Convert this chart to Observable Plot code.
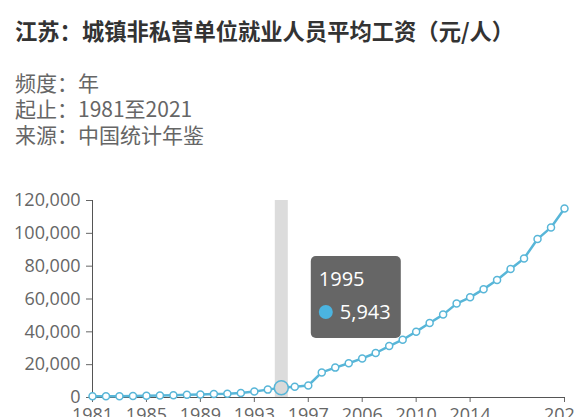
<!DOCTYPE html>
<html>
<head>
<meta charset="utf-8">
<script src="https://cdn.jsdelivr.net/npm/d3@7"></script>
<script src="https://cdn.jsdelivr.net/npm/@observablehq/plot@0.6"></script>
<style>
  html, body { margin: 0; padding: 0; background: #fff; overflow: hidden; }
  #wrap { position: relative; width: 575px; height: 417px; font-family: "Noto Sans CJK SC", "Noto Sans", sans-serif; }
  #title { position: absolute; left: 15px; top: 17px; font-size: 22.3px; line-height: 26px; font-weight: bold; color: #333; white-space: nowrap; }
  .sub { position: absolute; left: 15px; font-size: 21px; line-height: 24px; color: #666; white-space: nowrap; }
  #chart { position: absolute; left: 0; top: 165px; width: 575px; }
</style>
</head>
<body>
<div id="wrap">
  <div id="title">江苏：城镇非私营单位就业人员平均工资（元/人）</div>
  <div class="sub" style="top:70px">频度：年</div>
  <div class="sub" style="top:96px">起止：1981至2021</div>
  <div class="sub" style="top:122px">来源：中国统计年鉴</div>
  <div id="chart"></div>
</div>
<script>
const years = ["1981","1982","1983","1984","1985","1986","1987","1988","1989","1990","1991","1992","1993","1994","1995","1996","1997","2003","2004","2005","2006","2007","2008","2009","2010","2011","2012","2013","2014","2015","2016","2017","2018","2019","2020","2021"];
const wages = [780,800,820,960,1110,1290,1430,1720,1900,2100,2300,2800,3640,4800,5943,6500,7300,15300,18200,20900,23800,27100,31300,35200,40100,45400,50500,57200,61000,66000,71600,78300,84700,96500,103600,115100];
const tickYears = ["1981","1985","1989","1993","1997","2006","2010","2014","2021"];
const yTicks = [0,20000,40000,60000,80000,100000,120000];
const highlightYear = "1995";

// x position = category index (years are categories with gaps)
const data = years.map((y, i) => ({idx: i, year: y, value: wages[i]}));
const hl = data.filter(d => d.year === highlightYear);
const tickIdx = tickYears.map(y => years.indexOf(y));
const color = "#58b6d8";
const fmt = d3.format(",");
const axisFont = "'Open Sans', 'Noto Sans', sans-serif";

const chart = Plot.plot({
  width: 575,
  height: 262,
  marginLeft: 92,
  marginRight: 11,
  marginTop: 35,
  marginBottom: 30,
  style: {fontFamily: axisFont, fontSize: "18px", color: "#666", background: "transparent", overflow: "visible"},
  x: {type: "linear", domain: [0, years.length - 1], label: null},
  y: {domain: [0, 120000], label: null},
  marks: [
    Plot.ruleX(hl, {x: "idx", stroke: "#dcdcdc", strokeWidth: 13}),
    Plot.axisY({ticks: yTicks, tickFormat: fmt, tickSize: 6, tickPadding: 6, stroke: "#666", fill: "#666", fontSize: 18, label: null}),
    Plot.axisX({ticks: tickIdx, tickFormat: i => years[i], tickSize: 5, tickPadding: 6, stroke: "#666", fill: "#666", fontSize: 18, label: null}),
    Plot.frame({anchor: "left", stroke: "#555"}),
    Plot.frame({anchor: "bottom", stroke: "#555"}),
    Plot.line(data, {x: "idx", y: "value", stroke: color, strokeWidth: 2.5}),
    Plot.dot(data, {x: "idx", y: "value", r: 3.5, fill: "white", stroke: color, strokeWidth: 1.5}),
    Plot.dot(hl, {x: "idx", y: "value", r: 7, fill: "#d9d9d9", stroke: color, strokeWidth: 1.5})
  ]
});
document.getElementById("chart").appendChild(chart);

// tooltip annotation for the highlighted year
const svg = d3.select(chart);
const px = chart.scale("x").apply(hl[0].idx);
const bx = px + 30, by = 91, bw = 90, bh = 82;
const g = svg.append("g").attr("font-family", axisFont).attr("text-anchor", "start");
g.append("rect").attr("x", bx).attr("y", by).attr("width", bw).attr("height", bh).attr("rx", 5).attr("fill", "#666");
g.append("text").attr("x", bx + 8).attr("y", by + 30).attr("fill", "#fff").attr("font-size", 20).attr("text-anchor", "start").text(highlightYear);
g.append("circle").attr("cx", bx + 15).attr("cy", by + 56).attr("r", 7).attr("fill", "#4bb4e0");
g.append("text").attr("x", bx + 29).attr("y", by + 63).attr("fill", "#fff").attr("font-size", 20).attr("text-anchor", "start").text(fmt(hl[0].value));
</script>
</body>
</html>
